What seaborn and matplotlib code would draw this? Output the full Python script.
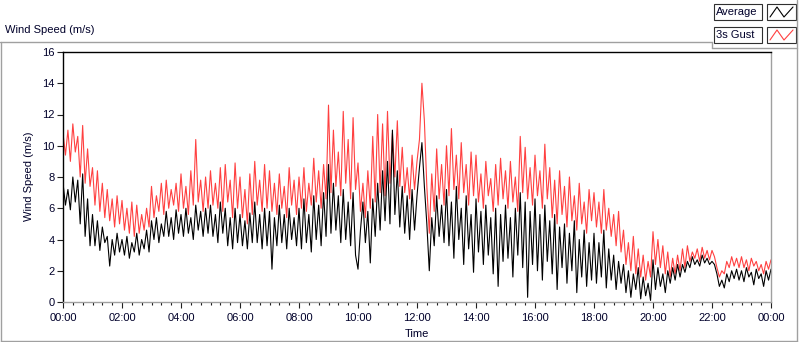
import numpy as np
import pandas as pd
import matplotlib
matplotlib.use('Agg')
import matplotlib.pyplot as plt
import seaborn as sns
from matplotlib.lines import Line2D
from matplotlib.patches import Rectangle

# 5-minute samples over one day
minutes = np.arange(0, 24 * 60 + 1, 5)

gust = (
    [10.8, 9.4, 11.0, 9.0, 11.4, 9.6, 10.6, 8.0, 11.3, 7.6, 9.8, 7.4] +
    [8.6, 6.2, 8.4, 5.8, 7.6, 5.4, 7.2, 5.2, 6.6, 4.8, 6.8, 5.0] +
    [6.5, 4.6, 6.0, 4.4, 6.4, 4.2, 6.2, 4.4, 5.6, 4.6, 6.0, 4.8] +
    [7.4, 5.4, 6.8, 5.8, 7.6, 5.6, 7.8, 6.0, 7.2, 6.2, 7.6, 5.8] +
    [8.2, 6.0, 7.4, 5.6, 8.4, 6.2, 10.4, 6.4, 7.8, 5.8, 8.0, 6.0] +
    [8.4, 6.2, 7.6, 6.0, 8.6, 5.8, 8.8, 6.4, 7.8, 5.4, 8.9, 6.0] +
    [8.0, 5.4, 7.2, 5.0, 8.2, 5.6, 9.0, 6.2, 7.8, 5.8, 8.8, 6.0] +
    [8.4, 5.8, 7.6, 5.6, 8.2, 6.0, 7.4, 5.4, 8.6, 6.2, 7.8, 5.6] +
    [8.0, 6.0, 8.6, 5.8, 7.6, 6.2, 9.2, 6.4, 8.4, 6.0, 8.8, 6.6] +
    [12.6, 7.0, 11.0, 7.4, 9.6, 6.8, 12.2, 7.6, 10.4, 6.6, 11.8, 7.2] +
    [8.9, 5.8, 7.6, 5.4, 8.4, 6.0, 10.6, 6.4, 12.0, 7.0, 11.4, 6.8] +
    [12.2, 7.6, 10.8, 8.0, 11.6, 7.4, 9.9, 7.0, 8.6, 6.6, 9.4, 7.2] +
    [9.0, 10.4, 14.0, 11.6, 7.4, 4.4, 8.2, 5.8, 9.8, 6.6, 8.8, 6.2] +
    [10.0, 6.8, 11.1, 7.2, 9.4, 6.6, 10.2, 7.0, 8.8, 6.2, 9.6, 6.8] +
    [9.4, 6.4, 8.2, 6.0, 9.0, 6.8, 7.9, 5.8, 8.8, 6.2, 9.2, 6.6] +
    [8.4, 6.0, 9.0, 6.4, 8.0, 5.8, 10.6, 7.0, 9.9, 6.6, 8.6, 6.2] +
    [9.4, 6.8, 8.4, 6.0, 10.1, 6.6, 8.6, 5.4, 7.8, 5.0, 8.4, 5.6] +
    [7.4, 4.8, 8.0, 5.2, 6.8, 4.6, 7.6, 5.0, 6.4, 4.4, 7.2, 5.2] +
    [7.0, 4.8, 6.4, 4.4, 7.2, 4.6, 6.0, 4.2, 5.6, 3.6, 5.8, 3.2] +
    [4.6, 2.4, 3.8, 2.0, 4.2, 1.8, 3.4, 1.6, 3.0, 1.4, 2.6, 1.6] +
    [4.5, 2.4, 4.0, 2.2, 3.6, 1.8, 3.2, 1.6, 2.8, 1.8, 3.0, 2.0] +
    [3.4, 2.2, 3.6, 2.6, 3.2, 2.8, 3.4, 2.6, 3.5, 2.8, 3.3, 2.7] +
    [3.3, 2.9, 2.2, 1.6, 2.0, 1.8, 2.6, 2.2, 2.9, 2.3, 2.8, 2.2] +
    [2.9, 2.2, 2.7, 2.0, 2.8, 2.3, 2.6, 2.0, 2.4, 1.8, 2.6, 2.1, 2.7]
)

average = (
    [7.6, 6.2, 7.2, 5.9, 8.0, 6.4, 7.8, 5.0, 8.2, 4.2, 6.6, 3.6] +
    [5.6, 3.6, 5.2, 3.3, 4.8, 3.8, 4.2, 2.3, 4.0, 3.0, 4.4, 3.2] +
    [4.0, 3.0, 4.2, 2.8, 3.8, 3.2, 4.4, 3.0, 4.0, 3.4, 4.6, 3.2] +
    [5.2, 4.0, 5.4, 3.8, 5.0, 4.2, 5.8, 4.2, 5.4, 4.0, 5.9, 4.4] +
    [5.6, 4.2, 6.0, 4.4, 5.4, 4.0, 6.2, 4.6, 5.8, 4.2, 6.0, 4.4] +
    [6.2, 4.2, 5.6, 3.8, 6.4, 4.4, 6.0, 3.6, 5.4, 3.4, 6.0, 3.8] +
    [5.6, 3.6, 5.2, 3.4, 5.7, 3.8, 6.4, 3.8, 5.6, 3.4, 6.0, 3.6] +
    [5.8, 2.1, 5.4, 3.6, 6.2, 3.8, 5.6, 3.4, 6.0, 4.0, 5.4, 3.6] +
    [6.0, 3.4, 6.6, 3.8, 5.6, 3.2, 6.8, 4.0, 6.2, 3.6, 7.0, 4.2] +
    [8.8, 4.4, 7.6, 4.6, 6.8, 3.8, 7.2, 4.0, 6.4, 3.6, 7.0, 3.0] +
    [2.1, 4.6, 6.4, 3.8, 5.8, 2.5, 6.6, 4.2, 7.6, 4.6, 8.4, 5.2] +
    [9.0, 5.0, 11.0, 5.6, 8.4, 4.8, 7.4, 4.4, 6.8, 4.0, 7.2, 4.6] +
    [6.8, 8.6, 10.2, 7.4, 5.0, 2.0, 5.4, 3.6, 6.8, 4.2, 6.2, 3.8] +
    [7.2, 3.6, 6.4, 2.8, 7.4, 4.0, 6.0, 2.4, 6.8, 3.4, 5.6, 1.9] +
    [6.6, 3.2, 5.8, 2.4, 6.2, 3.0, 5.4, 1.8, 6.0, 1.0, 5.6, 2.6] +
    [6.2, 2.8, 5.4, 1.6, 6.0, 3.0, 7.0, 2.2, 6.4, 0.3, 5.8, 2.4] +
    [6.6, 2.0, 5.6, 1.4, 6.2, 2.6, 5.2, 1.8, 5.6, 0.8, 4.8, 2.2] +
    [5.0, 1.2, 4.4, 2.0, 5.2, 0.6, 4.0, 1.6, 4.6, 1.0, 3.8, 1.4] +
    [4.4, 1.2, 3.8, 1.6, 4.6, 0.9, 3.4, 1.4, 3.0, 0.8, 2.6, 1.2] +
    [2.4, 0.6, 2.0, 0.3, 1.8, 0.8, 2.2, 0.2, 1.6, 0.4, 1.2, 0.1] +
    [2.7, 0.8, 2.2, 1.0, 1.8, 0.6, 2.0, 1.2, 2.2, 1.4, 2.4, 1.6] +
    [2.4, 1.9, 2.6, 2.2, 2.9, 2.4, 2.7, 2.3, 3.0, 2.5, 2.8, 2.4] +
    [2.6, 2.4, 1.8, 1.0, 1.4, 0.9, 1.8, 1.3, 2.0, 1.5, 2.1, 1.4] +
    [2.0, 1.3, 2.2, 1.6, 1.9, 1.1, 2.1, 1.5, 1.8, 1.0, 2.0, 1.4, 2.1]
)

x_ticks = list(range(0, 25, 2))
x_labels = ['%02d:00' % (h % 24) for h in x_ticks]
y_ticks = list(range(0, 17, 2))

df = pd.DataFrame({'hours': minutes / 60.0, 'Average': average, '3s Gust': gust})

sns.set_style('white')
plt.rcParams['font.family'] = ['Liberation Sans', 'DejaVu Sans']
plt.rcParams['font.size'] = 8

W, H = 800, 342
fig = plt.figure(figsize=(W / 100, H / 100), dpi=100)
fig.patch.set_facecolor('white')

def fx(x):
    return x / W

def fy(y):
    return 1 - y / H

ax = fig.add_axes([fx(63), fy(302), (771 - 63) / W, (302 - 52) / H])

sns.lineplot(data=df, x='hours', y='3s Gust', color='#ff4040', lw=0.8, ax=ax, estimator=None)
sns.lineplot(data=df, x='hours', y='Average', color='black', lw=0.8, ax=ax, estimator=None)

ax.set_xlim(0, 24)
ax.set_ylim(0, 16)
ax.set_xticks(x_ticks)
ax.set_xticklabels(x_labels)
ax.set_xticks(np.arange(0, 24.01, 1 / 3), minor=True)
ax.set_yticks(y_ticks)
ax.set_xlabel('')
ax.set_ylabel('')

txt = '#00002a'
ax.tick_params(axis='both', which='major', direction='out', length=4, width=0.8,
               color='#202020', labelcolor=txt, labelsize=8)
ax.tick_params(axis='x', which='major', pad=4)
ax.tick_params(axis='y', which='major', pad=2)
ax.tick_params(axis='x', which='minor', direction='out', length=2.5, width=0.8, color='#202020')
ax.tick_params(bottom=True, left=True, which='both')
ax.tick_params(axis='y', which='minor', left=False)

for side, col in [('top', 'black'), ('left', 'black'), ('bottom', '#a0a0a0'), ('right', '#a0a0a0')]:
    ax.spines[side].set_visible(True)
    ax.spines[side].set_color(col)
    ax.spines[side].set_linewidth(1.0)

# texts
fig.text(fx(5), fy(30), 'Wind Speed (m/s)', ha='left', va='center', fontsize=8, color=txt)
fig.text(fx(29), fy(176), 'Wind Speed (m/s)', rotation=90, ha='center', va='center',
         fontsize=8, color=txt)
fig.text(fx(417), fy(334), 'Time', ha='center', va='center', fontsize=8, color=txt)

# panel frame
gray = '#a0a0a0'
frame = [([0, 712], [42, 42]), ([712, 712], [42, 48]), ([712, 797], [48, 48]),
         ([797, 797], [0, 342]), ([1, 1], [42, 342]), ([1, 797], [341, 341])]
for xs, ys in frame:
    fig.add_artist(Line2D([fx(v) for v in xs], [fy(v) for v in ys],
                          color=gray, lw=1.0, transform=fig.transFigure))

# legend boxes
rows = [('Average', 'black', 4), ('3s Gust', '#ff4040', 27)]
for name, col, top in rows:
    h = 16
    fig.add_artist(Rectangle((fx(714), fy(top + h)), 48 / W, h / H, transform=fig.transFigure,
                             facecolor='white', edgecolor='#303030', lw=0.8))
    fig.text(fx(716), fy(top + h / 2), name, ha='left', va='center', fontsize=8, color=txt)
    fig.add_artist(Rectangle((fx(767), fy(top + h)), 29 / W, h / H, transform=fig.transFigure,
                             facecolor='white', edgecolor='#303030', lw=0.8))
    zx = [770, 777, 784, 793]
    zy = [top + 13, top + 3, top + 13, top + 3]
    fig.add_artist(Line2D([fx(v) for v in zx], [fy(v) for v in zy], color=col, lw=0.8,
                          transform=fig.transFigure))

fig.savefig('out.png', dpi=100, facecolor='white')
